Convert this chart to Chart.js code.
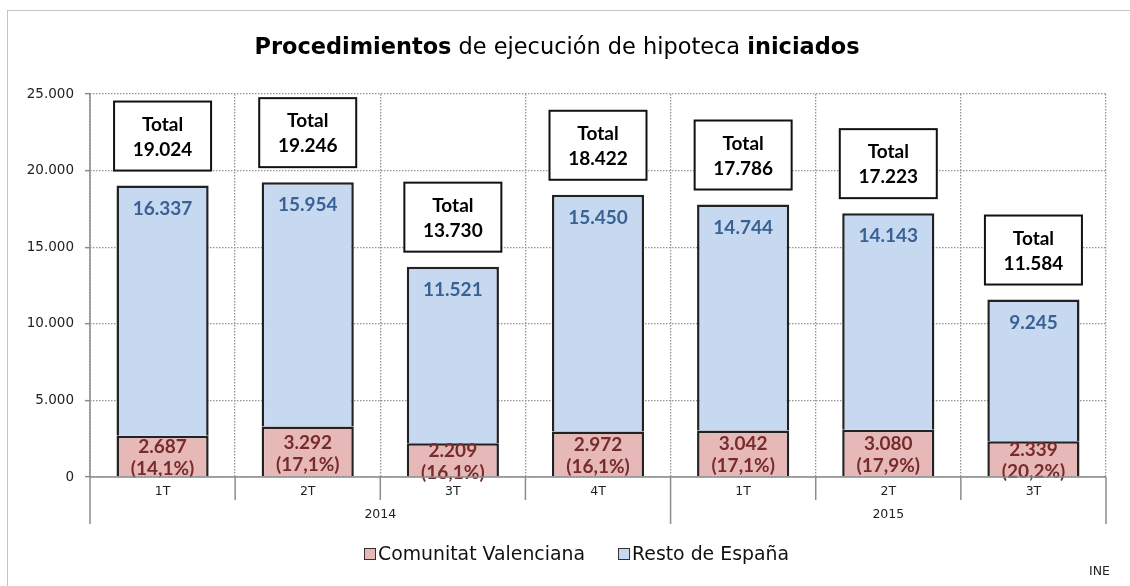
<!DOCTYPE html>
<html><head><meta charset="utf-8">
<script src="https://cdn.jsdelivr.net/npm/chart.js@4/dist/chart.umd.min.js"></script>
<style>html,body{margin:0;padding:0;background:#fff;} canvas{display:block;}</style>
</head><body>
<canvas id="c" width="1130" height="586"></canvas>
<script>
const categories = ['1T','2T','3T','4T','1T','2T','3T'];
const years = ['2014','2015'];
const yearSpans = [4, 3];
const comunitatValenciana = [2687, 3292, 2209, 2972, 3042, 3080, 2339];
const restoEspana = [16337, 15954, 11521, 15450, 14744, 14143, 9245];
const seriesNames = ['Comunitat Valenciana', 'Resto de España'];
const titleParts = [['Procedimientos', true], [' de ejecución de hipoteca ', false], ['iniciados', true]];
const totalWord = 'Total';
const sourceText = 'INE';

const FAM = '"DejaVu Sans", sans-serif';
const LFAM = 'Lato, "Liberation Sans", sans-serif';
const COL_C = '#E6B9B8', COL_R = '#C6D9F1';
const AXIS = '#8c8c8c';
const fmt = v => String(Math.round(v)).replace(/\B(?=(\d{3})+(?!\d))/g, '.');
const pct = (a, t) => (a / t * 100).toFixed(1).replace('.', ',') + '%';

const overlay = {
  id: 'overlay',
  beforeDraw(chart) {
    const ctx = chart.ctx;
    ctx.save();
    ctx.fillStyle = '#fff';
    ctx.fillRect(0, 0, chart.width, chart.height);
    ctx.strokeStyle = '#c4c4c4';
    ctx.lineWidth = 1;
    ctx.strokeRect(7.5, 10.5, 1200, 700);
    ctx.restore();
  },
  afterDatasetsDraw(chart) {
    const ctx = chart.ctx;
    const y = chart.scales.y;
    const mC = chart.getDatasetMeta(0), mR = chart.getDatasetMeta(1);
    ctx.save();
    ctx.textAlign = 'center';
    ctx.textBaseline = 'middle';
    for (let i = 0; i < categories.length; i++) {
      const bc = mC.data[i], br = mR.data[i];
      const c = comunitatValenciana[i], r = restoEspana[i], t = c + r;
      ctx.font = 'bold 19px ' + LFAM;
      ctx.fillStyle = '#3A6193';
      ctx.fillText(fmt(r), br.x, br.y + 23);
      const mid = (bc.y + bc.base) / 2 + 2;
      ctx.fillStyle = '#772B2B';
      ctx.fillText(fmt(c), bc.x, mid - 11);
      ctx.fillText('(' + pct(c, t) + ')', bc.x, mid + 11);
      // total box
      const top = y.getPixelForValue(t);
      const bw = 97, bh = 69;
      const bx = br.x - bw / 2, by = top - 15 - bh;
      ctx.fillStyle = '#fff';
      ctx.fillRect(bx, by, bw, bh);
      ctx.strokeStyle = '#111';
      ctx.lineWidth = 2;
      ctx.strokeRect(bx, by, bw, bh);
      ctx.fillStyle = '#000';
      ctx.font = 'bold 19px ' + LFAM;
      ctx.fillText(totalWord, br.x, by + 23);
      ctx.fillText(fmt(t), br.x, by + 48);
    }
    ctx.restore();
  },
  afterDraw(chart) {
    const ctx = chart.ctx;
    const x = chart.scales.x, a = chart.chartArea;
    const step = x.getPixelForValue(1) - x.getPixelForValue(0);
    const edge = i => x.getPixelForValue(0) - step / 2 + i * step;
    ctx.save();
    // solid axis lines
    ctx.strokeStyle = AXIS;
    ctx.lineWidth = 1.5;
    ctx.setLineDash([]);
    ctx.beginPath();
    ctx.moveTo(a.left, a.top);
    ctx.lineTo(a.left, a.bottom);
    ctx.moveTo(a.left, a.bottom);
    ctx.lineTo(a.right, a.bottom);
    ctx.stroke();
    // x ticks
    const yearEdges = [0];
    yearSpans.reduce((s, n) => { yearEdges.push(s + n); return s + n; }, 0);
    for (let i = 0; i <= categories.length; i++) {
      const long = yearEdges.includes(i);
      ctx.beginPath();
      ctx.moveTo(edge(i), a.bottom);
      ctx.lineTo(edge(i), a.bottom + (long ? 47 : 23));
      ctx.stroke();
    }
    // year labels
    ctx.fillStyle = '#222';
    ctx.font = '12.5px ' + FAM;
    ctx.textAlign = 'center';
    ctx.textBaseline = 'middle';
    years.forEach((yr, k) => {
      const cx = (edge(yearEdges[k]) + edge(yearEdges[k + 1])) / 2;
      ctx.fillText(yr, cx, a.bottom + 38);
    });
    // title
    const base = 20;
    let w = 0;
    titleParts.forEach(([s, b]) => { ctx.font = (b ? 'bold ' : '') + base + 'px ' + FAM; w += ctx.measureText(s).width; });
    const fs = base * 605 / w;
    let tx = 557 - 605 / 2;
    ctx.textAlign = 'left';
    ctx.fillStyle = '#000';
    titleParts.forEach(([s, b]) => {
      ctx.font = (b ? 'bold ' : '') + fs.toFixed(2) + 'px ' + FAM;
      ctx.fillText(s, tx, 48);
      tx += ctx.measureText(s).width;
    });
    // legend
    ctx.font = '16px ' + FAM;
    const lfs = 16 * 207 / ctx.measureText(seriesNames[0]).width;
    ctx.font = lfs.toFixed(2) + 'px ' + FAM;
    const widths = seriesNames.map(s => 14 + ctx.measureText(s).width);
    const gap = 33;
    let lx = 576.5 - (widths[0] + widths[1] + gap) / 2;
    const ly = 554;
    [COL_C, COL_R].forEach((col, k) => {
      ctx.fillStyle = col;
      ctx.fillRect(lx + 0.5, ly - 5.5, 11, 11);
      ctx.strokeStyle = '#333';
      ctx.lineWidth = 1;
      ctx.strokeRect(lx + 0.5, ly - 5.5, 11, 11);
      ctx.fillStyle = '#111';
      ctx.fillText(seriesNames[k], lx + 14, ly + 1);
      lx += widths[k] + gap;
    });
    // source
    ctx.font = '12.5px ' + FAM;
    ctx.textAlign = 'right';
    ctx.fillStyle = '#222';
    ctx.fillText(sourceText, 1110, 572);
    ctx.restore();
  }
};

new Chart(document.getElementById('c'), {
  type: 'bar',
  data: {
    labels: categories,
    datasets: [
      { label: seriesNames[0], data: comunitatValenciana, backgroundColor: COL_C, borderColor: '#222', borderWidth: 2.5, barPercentage: 0.635, categoryPercentage: 1 },
      { label: seriesNames[1], data: restoEspana, backgroundColor: COL_R, borderColor: '#222', borderWidth: 2.5, barPercentage: 0.635, categoryPercentage: 1 }
    ]
  },
  options: {
    responsive: false,
    animation: false,
    events: [],
    layout: { padding: { left: 8, right: 24, top: 94, bottom: 0 } },
    plugins: { legend: { display: false }, title: { display: false }, tooltip: { enabled: false } },
    scales: {
      x: {
        stacked: true,
        offset: true,
        grid: { display: true, offset: true, color: '#959595', lineWidth: 1.3, drawTicks: false },
        border: { display: false, dash: [1.5, 1.5] },
        ticks: { font: { family: 'DejaVu Sans', size: 12.5 }, color: '#222', padding: 7, maxRotation: 0, autoSkip: false },
        afterFit(s) { s.height = 109; }
      },
      y: {
        stacked: true,
        min: 0, max: 25000,
        ticks: { stepSize: 5000, callback: v => fmt(v), font: { family: 'DejaVu Sans', size: 13.5 }, color: '#222', padding: 11 },
        grid: { color: '#959595', lineWidth: 1.3, tickLength: 5, tickColor: AXIS, tickWidth: 1.5 },
        border: { display: false, dash: [1.5, 1.5] },
        afterFit(s) { s.width = 82; }
      }
    }
  },
  plugins: [overlay]
});
</script>
</body></html>
